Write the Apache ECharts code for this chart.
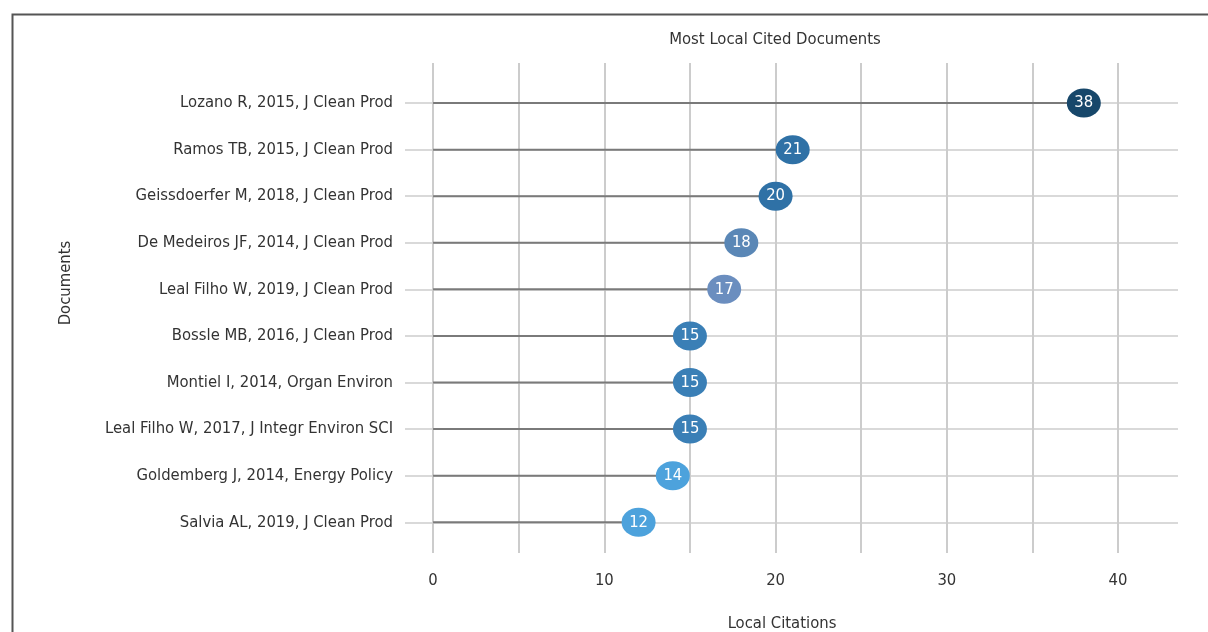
<!DOCTYPE html>
<html>
<head>
<meta charset="utf-8">
<script src="https://cdn.jsdelivr.net/npm/echarts@6/dist/echarts.min.js"></script>
<style>
html,body{margin:0;padding:0;background:#fff;}
#chart{width:1208px;height:632px;}
</style>
</head>
<body>
<div id="chart"></div>
<script>
// Documents listed top to bottom
const documents = [
  "Lozano R, 2015, J Clean Prod",
  "Ramos TB, 2015, J Clean Prod",
  "Geissdoerfer M, 2018, J Clean Prod",
  "De Medeiros JF, 2014, J Clean Prod",
  "Leal Filho W, 2019, J Clean Prod",
  "Bossle MB, 2016, J Clean Prod",
  "Montiel I, 2014, Organ Environ",
  "Leal Filho W, 2017, J Integr Environ SCI",
  "Goldemberg J, 2014, Energy Policy",
  "Salvia AL, 2019, J Clean Prod"
];
const citations = [38, 21, 20, 18, 17, 15, 15, 15, 14, 12];
const markerColors = ["#17476a", "#2f71a6", "#2f71a6", "#5a87b6", "#6b8ebf", "#3a7fb6", "#3a7fb6", "#3a7fb6", "#4da2dc", "#4da2dc"];
const xTickValues = [0, 5, 10, 15, 20, 25, 30, 35, 40];
const xLabelValues = [0, 10, 20, 30, 40];

const n = documents.length;
const rowPos = documents.map((d, i) => n - i); // top row = n
const FONT = "'Liberation Sans Narrow', 'DejaVu Sans Condensed', sans-serif";
const FS = 16.5;

const pointData = citations.map((v, i) => ({
  value: [v, rowPos[i]],
  itemStyle: { color: markerColors[i], opacity: 1 }
}));
const stickData = citations.map((v, i) => [v, rowPos[i]]);

const chart = echarts.init(document.getElementById('chart'), null, { renderer: 'canvas' });
chart.setOption({
  animation: false,
  backgroundColor: '#ffffff',
  textStyle: { fontFamily: FONT },
  title: {
    text: 'Most Local Cited Documents',
    left: 770, top: 26, textAlign: 'center',
    textStyle: { fontFamily: FONT, fontSize: FS, fontWeight: 'normal', color: '#333' }
  },
  graphic: [{
    type: 'rect', left: 10, top: 12, z: 100,
    shape: { width: 1400, height: 900 },
    style: { fill: 'none', stroke: '#555', lineWidth: 2 }
  }],
  grid: { left: 405, right: 30, top: 63, bottom: 79, outerBoundsMode: 'none', containLabel: false },
  xAxis: {
    type: 'value', min: -1.64, max: 43.5,
    name: 'Local Citations', nameLocation: 'middle', nameGap: 62,
    nameTextStyle: { fontFamily: FONT, fontSize: FS, color: '#333', padding: [0, 19, 0, 0] },
    axisLine: { show: false },
    axisTick: { show: false, customValues: xTickValues },
    axisLabel: { customValues: xLabelValues, margin: 19, fontFamily: FONT, fontSize: FS, color: '#333' },
    splitLine: { show: true, lineStyle: { color: '#cccccc', width: 2 } }
  },
  yAxis: {
    type: 'value', min: 0.34, max: 10.86,
    name: 'Documents', nameLocation: 'middle', nameGap: 331, nameRotate: 90,
    nameTextStyle: { fontFamily: FONT, fontSize: FS, color: '#333', padding: [0, 0, 0, 50] },
    axisLine: { show: false },
    axisTick: { show: false, customValues: rowPos },
    axisLabel: {
      customValues: rowPos, margin: 12, fontFamily: FONT, fontSize: FS, color: '#333',
      formatter: v => documents[n - Math.round(v)]
    },
    splitLine: { show: true, lineStyle: { color: '#cccccc', width: 1.5 } }
  },
  series: [{
    type: 'custom',
    data: stickData,
    z: 2,
    renderItem: function (params, api) {
      const start = api.coord([0, api.value(1)]);
      const end = api.coord([api.value(0), api.value(1)]);
      return {
        type: 'line',
        shape: { x1: start[0], y1: start[1], x2: end[0], y2: end[1] },
        style: { stroke: '#7a7a7a', lineWidth: 2 }
      };
    }
  }, {
    type: 'scatter',
    z: 3,
    symbol: 'circle',
    symbolSize: [34, 29],
    data: pointData,
    label: {
      show: true, position: 'inside', color: '#ffffff',
      fontFamily: FONT, fontSize: FS,
      formatter: p => String(p.value[0])
    }
  }]
});
</script>
</body>
</html>
